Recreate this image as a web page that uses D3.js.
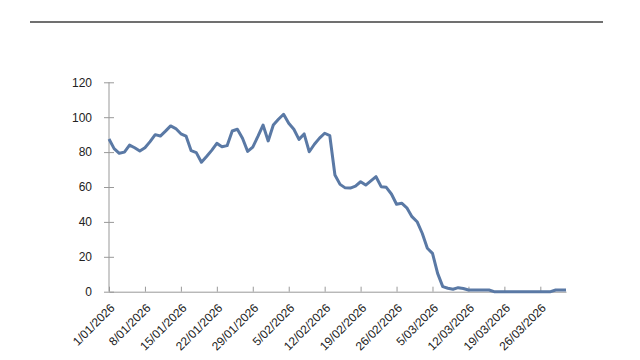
<!DOCTYPE html>
<html><head><meta charset="utf-8">
<script src="https://cdn.jsdelivr.net/npm/d3@7"></script>
<style>body{margin:0;background:#fff}svg{display:block}</style>
</head><body><svg id="c" width="640" height="360"></svg>
<script>
const startDate = "2026-01-01";
const values = [
 87.5,82,79.3,80,84,82.5,80.6,82.5,86,90,
 89.2,92,95,93.5,90.5,89.2,80.8,79.7,74.2,77.5,
 81,85,83.1,83.7,92.1,93.1,87.9,80.4,82.9,89,
 95.5,86.4,95.5,98.8,101.7,96.5,93.1,87.3,90.4,80.2,
 84.5,88,90.8,89.4,66.9,61.5,59.5,59.4,60.5,63,
 61.1,63.5,65.9,60.2,59.8,56,50.1,50.7,48.1,43,
 40.1,33.5,24.9,22,10.5,2.9,2,1.4,2.3,1.8,
 1,1,1,1,1,0,0,0,0,0,
 0,0,0,0,0,0,0,1,1,1
];
const yTicks = [0,20,40,60,80,100,120];
const xTickLabels = ["1/01/2026","8/01/2026","15/01/2026","22/01/2026","29/01/2026","5/02/2026","12/02/2026","19/02/2026","26/02/2026","5/03/2026","12/03/2026","19/03/2026","26/03/2026"];

const parse = d3.timeParse("%Y-%m-%d");
const t0 = parse(startDate);
const data = values.map((v,i)=>({date:d3.timeDay.offset(t0,i), v}));
const tickDates = xTickLabels.map(s=>{const [d,m,y]=s.split("/");return new Date(+y,+m-1,+d);});

const svg = d3.select("#c");
const x = d3.scaleTime().domain([t0, data[data.length-1].date]).range([109, 566]);
const y = d3.scaleLinear().domain([0,120]).range([291.7, 82.3]);

// top rule
svg.append("line").attr("x1",30).attr("x2",603).attr("y1",22).attr("y2",22)
  .attr("stroke","#404040").attr("stroke-width",1.6);

const axisColor = "#999";
const font = "'Liberation Sans', Arial, sans-serif";

// y axis
const gy = svg.append("g").attr("transform","translate(109,0)")
  .call(d3.axisLeft(y).tickValues(yTicks).tickSize(5).tickSizeOuter(0).tickPadding(12));
gy.select(".domain").attr("stroke",axisColor).attr("d",`M0,${y(120)}V${y(0)}`);
gy.selectAll(".tick line").attr("stroke",axisColor).attr("x1",-5).attr("x2",5);
gy.selectAll("text").attr("font-family",font).attr("font-size",12).attr("fill","#222");

// x axis
const gx = svg.append("g").attr("transform",`translate(0,${y(0)})`)
  .call(d3.axisBottom(x).tickValues(tickDates).tickSize(-5).tickSizeOuter(0)
    .tickFormat((d,i)=>xTickLabels[i]));
gx.select(".domain").attr("stroke",axisColor);
gx.selectAll(".tick line").attr("stroke",axisColor);
gx.selectAll("text").attr("font-family",font).attr("font-size",12).attr("fill","#222")
  .attr("text-anchor","end").attr("y",0).attr("dy",0)
  .attr("transform","translate(6,17) rotate(-45)");

// line
svg.append("path").datum(data)
  .attr("fill","none").attr("stroke","#5a79a5").attr("stroke-width",3)
  .attr("stroke-linejoin","round")
  .attr("d", d3.line().x(d=>x(d.date)).y(d=>y(d.v)));
</script></body></html>
